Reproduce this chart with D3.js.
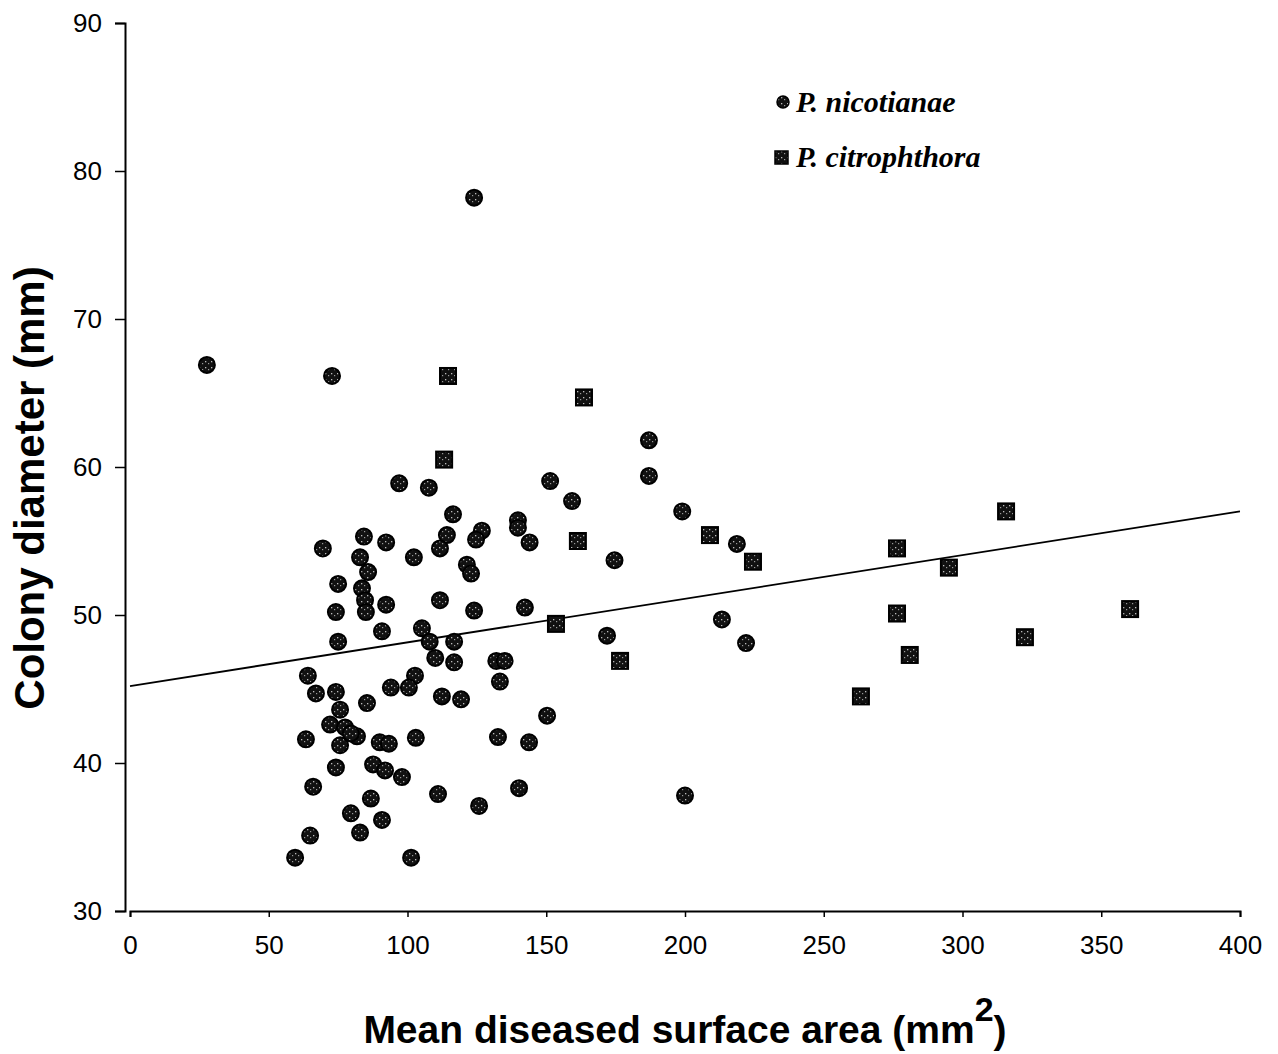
<!DOCTYPE html>
<html><head><meta charset="utf-8">
<script src="https://cdn.jsdelivr.net/npm/d3@7"></script>
<style>body{margin:0;background:#fff}svg{display:block}</style>
</head><body>
<script>
// P. nicotianae: mean diseased surface area (mm2), colony diameter (mm)
const nicX = [27.7,72.8,124,187,187,97,107.7,151.4,159.3,199,116.4,139.8,139.8,144,218.7,
 69.5,84.3,92.3,82.9,85.8,114.2,111.7,126.8,124.7,102.3,121.4,122.9,75,83.6,84.7,85,74.2,92.3,111.7,124,
 90.8,75,105.2,108,116.8,110,116.8,132,135,133.3,64.1,67,74.2,85.4,94,102.7,100.5,112.4,119.3,
 75.7,72.1,77.5,81.8,75.7,79.6,63.4,90,93.3,103,132.6,74.2,87.6,91.9,98,66,111,125.8,86.8,79.6,90.8,82.9,64.9,59.5,101.3,
 143.8,140.2,150.3,142.3,171.9,174.6,213.3,222,200];
const nicY = [66.9,66.15,78.2,61.8,59.4,58.9,58.6,59.05,57.7,57.0,56.8,56.4,55.9,54.9,54.8,
 54.5,55.3,54.9,53.9,52.9,55.4,54.5,55.7,55.1,53.9,53.4,52.8,52.1,51.8,51.0,50.2,50.2,50.7,51.0,50.3,
 48.9,48.2,49.1,48.2,48.2,47.1,46.8,46.9,46.9,45.5,45.9,44.7,44.8,44.05,45.1,45.9,45.1,44.5,44.3,
 43.6,42.6,42.4,41.8,41.2,42.0,41.6,41.4,41.3,41.7,41.75,39.7,39.9,39.5,39.05,38.4,37.9,37.1,37.6,36.6,36.15,35.3,35.1,33.6,33.6,
 41.4,38.3,43.2,50.5,48.6,53.7,49.7,48.1,37.8];
// P. citrophthora
const citX = [114.6,163.6,113.2,161.4,209,224.5,153.5,176.6,263.4,276.4,276.4,281,295.1,315.7,322.5,360.4];
const citY = [66.15,64.7,60.5,55.0,55.4,53.6,49.4,46.9,44.5,54.5,50.1,47.3,53.2,57.0,48.5,50.4];
// regression line
const trendX = [0,400];
const trendY = [45.2,57.0];
const xTicks = [0,50,100,150,200,250,300,350,400];
const yTicks = [30,40,50,60,70,80,90];
const seriesNames = ["P. nicotianae","P. citrophthora"];

const W=1278,H=1054;
const svg=d3.select("body").append("svg").attr("width",W).attr("height",H);
const x=d3.scaleLinear().domain([0,400]).range([130,1240]);
const y=d3.scaleLinear().domain([30,90]).range([911,23]);

const defs=svg.append("defs");
const pat=defs.append("pattern").attr("id","speck").attr("patternUnits","userSpaceOnUse").attr("width",6).attr("height",6);
pat.append("rect").attr("width",6).attr("height",6).attr("fill","#111");
pat.append("rect").attr("x",1).attr("y",1).attr("width",1.3).attr("height",1.3).attr("fill","#bbb");
pat.append("rect").attr("x",4).attr("y",3).attr("width",1.2).attr("height",1.2).attr("fill","#999");

const axisFont="Liberation Sans, Arial, sans-serif";
// axes
const xa=svg.append("g").attr("transform","translate(0,911)")
  .call(d3.axisBottom(x).tickValues(xTicks).tickSize(6).tickPadding(19).tickFormat(d3.format("d")));
const ya=svg.append("g").attr("transform","translate(125,0)")
  .call(d3.axisLeft(y).tickValues(yTicks).tickSize(10).tickPadding(13).tickFormat(d3.format("d")));
[xa,ya].forEach(g=>{
  g.select(".domain").attr("stroke","#000").attr("stroke-width",2);
  g.selectAll(".tick line").attr("stroke","#000").attr("stroke-width",1.5);
  g.selectAll(".tick text").attr("font-family",axisFont).attr("fill","#000");
});
xa.selectAll(".tick text").attr("font-size",26);
ya.selectAll(".tick text").attr("font-size",26);

// trend line
svg.append("line").attr("x1",x(trendX[0])).attr("y1",y(trendY[0])).attr("x2",x(trendX[1])).attr("y2",y(trendY[1]))
  .attr("stroke","#000").attr("stroke-width",1.8);

// points
const nic=d3.range(nicX.length).map(i=>({x:nicX[i],y:nicY[i]}));
const cit=d3.range(citX.length).map(i=>({x:citX[i],y:citY[i]}));
svg.append("g").selectAll("circle").data(nic).join("circle")
  .attr("cx",d=>x(d.x)).attr("cy",d=>y(d.y)).attr("r",8)
  .attr("fill","url(#speck)").attr("stroke","#000").attr("stroke-width",2);
svg.append("g").selectAll("rect").data(cit).join("rect")
  .attr("x",d=>x(d.x)-8).attr("y",d=>y(d.y)-8).attr("width",16).attr("height",16)
  .attr("fill","url(#speck)").attr("stroke","#000").attr("stroke-width",2);

// legend
const lg=svg.append("g");
lg.append("circle").attr("cx",783).attr("cy",102).attr("r",6).attr("fill","url(#speck)").attr("stroke","#000").attr("stroke-width",1.5);
lg.append("rect").attr("x",775).attr("y",151).attr("width",13).attr("height",13).attr("fill","url(#speck)").attr("stroke","#000").attr("stroke-width",1.5);
lg.selectAll("text").data(seriesNames).join("text")
  .attr("x",796).attr("y",(d,i)=>112+i*55)
  .attr("font-family","Liberation Serif, Times New Roman, serif").attr("font-style","italic").attr("font-weight","bold")
  .attr("font-size",30).attr("fill","#000").text(d=>d);

// titles
svg.append("text").attr("transform","translate(44,488) rotate(-90)").attr("text-anchor","middle")
  .attr("font-family",axisFont).attr("font-weight","bold").attr("font-size",42).attr("fill","#000")
  .text("Colony diameter (mm)");
const xt=svg.append("text").attr("x",685).attr("y",1043).attr("text-anchor","middle")
  .attr("font-family",axisFont).attr("font-weight","bold").attr("font-size",39).attr("fill","#000");
xt.append("tspan").text("Mean diseased surface area (mm");
xt.append("tspan").attr("dy",-22).attr("font-size",34).text("2");
xt.append("tspan").attr("dy",22).text(")");
</script>
</body></html>
